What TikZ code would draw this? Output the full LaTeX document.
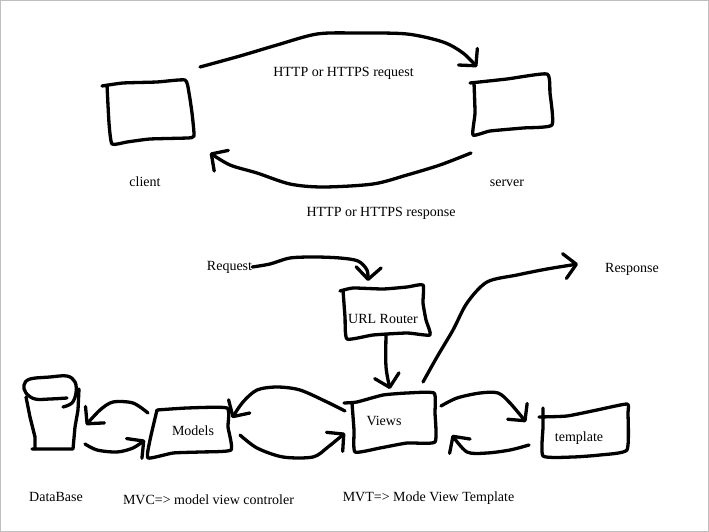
\documentclass[tikz,border=0pt]{standalone}
\usepackage{fontspec}
\setmainfont{Liberation Serif}
\usetikzlibrary{arrows.meta}
\tikzset{>={Straight Barb[round,length=12pt,width=25pt]}}
\tikzset{
  sketch/.style={line width=3.3pt,line cap=round,line join=round,black},
  sketcharrow/.style={sketch,->},
  label/.style={inner sep=0pt,font=\fontsize{14}{16}\selectfont}}

\begin{document}
\begin{tikzpicture}[x=1pt,y=-1pt]
    \useasboundingbox (0,0) rectangle (709,532);
    \draw [line width=1.2pt,color=black!25] (0,0) rectangle (709,532);
    % labels
    \node [label] (reqlabel) at (343.5,73) {HTTP or HTTPS request};
    \node [label] (resplabel) at (381,213) {HTTP or HTTPS response};
    \node [label] (clientlabel) at (145,182) {client};
    \node [label] (serverlabel) at (507,183) {server};
    \node [label] (request) at (229.5,267) {Request};
    \node [label] (response) at (632,269) {Response};
    \node [label] (router) at (383,319) {URL Router};
    \node [label] (views) at (384,421) {Views};
    \node [label] (models) at (193,431) {Models};
    \node [label] (template) at (579,438) {template};
    \node [label] (database) at (56,497) {DataBase};
    \node [label] (mvc) at (208.5,500) {MVC=> model view controler};
    \node [label] (mvt) at (428.5,498) {MVT=> Mode View Template};
    % boxes
    \draw [sketch] plot[smooth,tension=0.3] coordinates {(102,86) (123,83) (157,82) (185,80) (189,93) (192,113) (194,136) (187,138) (150,139) (127,142) (112,144) (109,123) (107,85)};
    \draw [sketch] plot[smooth,tension=0.3] coordinates {(470,83) (507,79) (547,74) (550,93) (552,125) (523,128) (490,131) (473,135) (475,113) (474,83)};
    \draw [sketch] plot[smooth,tension=0.3] coordinates {(340,291) (353,288) (383,289) (407,287) (423,285) (423,303) (426,320) (430,335) (407,333) (373,335) (347,339) (345,317) (343,290)};
    \draw [sketch] plot[smooth,tension=0.3] coordinates {(344,403) (357,402) (383,395) (407,393) (434,393) (435,413) (435,442) (407,443) (380,448) (355,452) (354,430) (352,403)};
    \draw [sketch] plot[smooth,tension=0.3] coordinates {(157,410) (187,408) (227,408) (228,427) (231,450) (200,452) (173,453) (148,458) (150,440) (157,410)};
    \draw [sketch] plot[smooth,tension=0.3] coordinates {(539,417) (567,416) (597,410) (627,404) (628,413) (627,450) (600,455) (573,457) (543,456) (543,427) (543,408)};
    % database
    \draw [sketch] plot[smooth,tension=0.6] coordinates {(63,407) (72,403) (76,393) (75,382) (67,376) (50,377) (30,379) (24,385) (26,393) (35,399) (50,399) (67,398)};
    \draw [sketch] (26,397) -- (30,417) -- (35,437) -- (35,449);
    \draw [sketch] (32,449) -- (73,449) -- (75,427) -- (78,410) -- (79,389);
    % connector ends
    \coordinate (clientout) at (200,67);
    \coordinate (serverin) at (477,67);
    \coordinate (serverout) at (471,153);
    \coordinate (clientin) at (210,153);
    \coordinate (routerin) at (368,281);
    \coordinate (routerout) at (386,335);
    \coordinate (viewsin) at (390,389);
    \coordinate (viewsout) at (423,382);
    \coordinate (respend) at (578,264);
    \coordinate (tempin) at (526,422);
    \coordinate (tempout) at (529,445);
    % connectors
    \draw [sketcharrow] plot[smooth] coordinates {(clientout) (240,56) (277,45) (317,34) (357,33) (407,34) (443,42) (463,53) (serverin)};
    \draw [sketcharrow] plot[smooth] coordinates {(serverout) (440,165) (407,175) (373,184) (323,187) (290,184) (257,173) (230,165) (clientin)};
    \draw [sketcharrow] plot[smooth] coordinates {(request.east) (270,264) (290,258) (315,257) (340,258) (358,261) (367,270) (routerin)};
    \draw [sketcharrow] plot[smooth] coordinates {(routerout) (386,367) (viewsin)};
    \draw [sketcharrow] plot[smooth] coordinates {(viewsout) (437,357) (453,330) (467,303) (487,282) (517,275) (547,269) (respend)};
    \draw [sketcharrow] plot[smooth] coordinates {(441,406) (457,398) (480,393) (498,393) (510,403) (tempin)};
    \draw [sketcharrow] plot[smooth] coordinates {(tempout) (510,450) (487,453) (467,452) (452,435)};
    \draw [sketcharrow] plot[smooth] coordinates {(345,411) (327,402) (300,390) (277,387) (257,390) (243,402) (232,418)};
    \draw [sketcharrow] plot[smooth] coordinates {(240,435) (257,448) (283,457) (313,457) (328,447) (345,433)};
    \draw [sketcharrow] plot[smooth] coordinates {(148,413) (133,403) (113,402) (100,410) (86,425)};
    \draw [sketcharrow] plot[smooth] coordinates {(85,444) (97,450) (117,452) (133,448) (145,440)};
\end{tikzpicture}
\end{document}
